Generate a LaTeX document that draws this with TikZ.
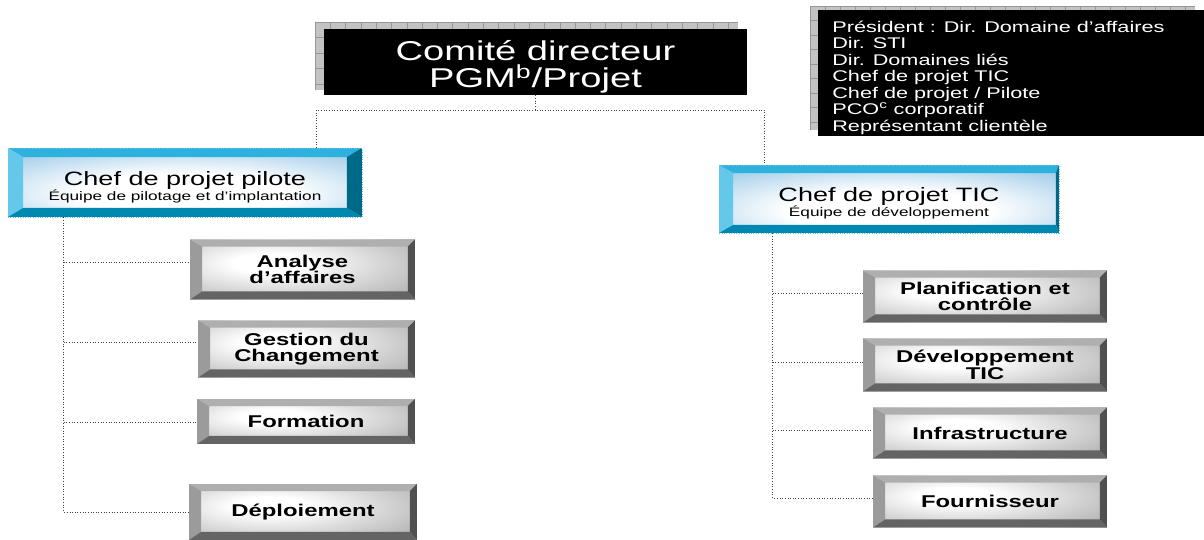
\documentclass[tikz,border=0pt]{standalone}
\usepackage{fontspec}
\setmainfont{Liberation Sans}[FakeStretch=1.4]
\usepackage{tikz}
\usetikzlibrary{calc, positioning}

\definecolor{grishaut}{RGB}{175,175,175}
\definecolor{grisgauche}{RGB}{155,155,155}
\definecolor{grisdroit}{RGB}{80,80,80}
\definecolor{grisbas}{RGB}{100,100,100}
\definecolor{grisfond}{RGB}{145,145,145}
\definecolor{cyanhaut}{RGB}{45,178,222}
\definecolor{cyangauche}{RGB}{100,200,235}
\definecolor{cyandroit}{RGB}{0,105,135}
\definecolor{cyanbas}{RGB}{0,136,176}
\definecolor{cyanfond}{RGB}{60,150,210}
\definecolor{ombre}{RGB}{195,195,195}
\definecolor{ombretrait}{RGB}{150,150,150}

\pgfdeclareradialshading{lueurgris}{\pgfpoint{-8bp}{6bp}}{color(0bp)=(white); color(8bp)=(white);
  color(50bp)=(grisfond); color(100bp)=(grisfond)}
\pgfdeclareradialshading{lueurcyan}{\pgfpoint{0bp}{-10bp}}{color(0bp)=(white); color(15bp)=(white);
  color(58bp)=(cyanfond); color(100bp)=(cyanfond)}

\tikzset{
  bevelsize/.code n args={4}{\def\bvl{#1}\def\bvt{#2}\def\bvr{#3}\def\bvb{#4}},
  bevelcolors/.code n args={4}{\def\bct{#1}\def\bcl{#2}\def\bcr{#3}\def\bcb{#4}},
  bevel/.style={path picture={
    \coordinate (pnw) at (path picture bounding box.north west);
    \coordinate (pne) at (path picture bounding box.north east);
    \coordinate (pse) at (path picture bounding box.south east);
    \coordinate (psw) at (path picture bounding box.south west);
    \coordinate (inw) at ($(pnw)+(\bvl,\bvt)$);
    \coordinate (ine) at ($(pne)+(-\bvr,\bvt)$);
    \coordinate (ise) at ($(pse)+(-\bvr,-\bvb)$);
    \coordinate (isw) at ($(psw)+(\bvl,-\bvb)$);
    \fill[fill=\bct] (pnw) -- (pne) -- (ine) -- (inw) -- cycle;
    \fill[fill=\bcl] (pnw) -- (inw) -- (isw) -- (psw) -- cycle;
    \fill[fill=\bcr] (pne) -- (pse) -- (ise) -- (ine) -- cycle;
    \fill[fill=\bcb] (psw) -- (isw) -- (ise) -- (pse) -- cycle;
  }},
}

\begin{document}
\begin{tikzpicture}[x=0.02cm, y=-0.02cm,
    lien/.style={draw=black!75, densely dotted, line width=0.5pt},
    comitebox/.style={fill=black, text=white, inner sep=0pt, align=center,
      font=\fontsize{15.5}{15.5}\selectfont},
    membres/.style={text=white, inner sep=0pt, align=left,
      font=\fontsize{8.8}{9.4}\selectfont},
    tache/.style={rectangle, inner sep=0pt, align=center, shade, shading=lueurgris,
      font=\fontsize{9.7}{9.5}\selectfont\bfseries,
      bevelsize={12}{7}{7}{8},
      bevelcolors={grishaut}{grisgauche}{grisdroit}{grisbas}, bevel},
    equipe/.style={rectangle, inner sep=0pt, align=center, shade, shading=lueurcyan,
      draw=cyangauche, densely dotted,
      font=\fontsize{11}{8.5}\selectfont,
      bevelsize={15}{9}{15}{9},
      bevelcolors={cyanhaut}{cyangauche}{cyandroit}{cyanbas}, bevel}]
    \useasboundingbox (0,0) rectangle (1204,540);

    % Grid shadow behind the steering committee
    \fill[ombre] (315,22) rectangle (738,90);
    \foreach \gx in {315,330.3,...,738}
        \draw[ombretrait, line width=0.3pt] (\gx,22) -- (\gx,90);
    \foreach \gy in {22,37.5,...,90}
        \draw[ombretrait, line width=0.3pt] (315,\gy) -- (738,\gy);

    % Steering committee
    \node[comitebox, minimum width=8.46cm, minimum height=1.32cm] (comite) at (535.5,62)
        {\rule{0pt}{17pt}Comité directeur\\PGM\textsuperscript{b}/Projet};

    % Committee members (black panel, top right)
    \fill[ombre] (810,6) rectangle (1195,130);
    \foreach \gx in {810,825,...,1195}
        \draw[ombretrait, line width=0.3pt] (\gx,6) -- (\gx,130);
    \foreach \gy in {6,20.5,...,130}
        \draw[ombretrait, line width=0.3pt] (810,\gy) -- (1195,\gy);
    \fill[black] (818,10) rectangle (1204,136);
    \node[membres, anchor=north west] (membres) at (832,20.5)
        {Président : Dir. Domaine d’affaires\\Dir. STI\\Dir. Domaines liés\\
         Chef de projet TIC\\Chef de projet / Pilote\\PCO\textsuperscript{c} corporatif\\
         Représentant clientèle};

    % Teams
    \node[equipe, minimum width=7.08cm, minimum height=1.38cm] (pilote) at (185,182.5)
        {\rule{0pt}{13pt}Chef de projet pilote\\{\fontsize{7}{8.5}\selectfont Équipe de pilotage et d’implantation}};
    \node[equipe, bevelsize={14}{8}{3}{8}, minimum width=6.8cm, minimum height=1.36cm] (tic) at (889,199)
        {\rule{0pt}{12.5pt}Chef de projet TIC\\{\fontsize{7}{8.5}\selectfont Équipe de développement}};

    % Pilot side tasks
    \node[tache, minimum width=4.5cm, minimum height=1.2cm] (analyse) at (302.5,269.5) {Analyse\\d’affaires};
    \node[tache, minimum width=4.34cm, minimum height=1.14cm] (gestion) at (306.5,349) {Gestion du\\Changement};
    \node[tache, minimum width=4.36cm, minimum height=0.9cm] (formation) at (306,421.5) {Formation};
    \node[tache, minimum width=4.56cm, minimum height=1.12cm] (deploi) at (303,512) {Déploiement};

    % TIC side tasks
    \node[tache, minimum width=4.88cm, minimum height=1.04cm] (planif) at (985,296.5) {Planification et\\contrôle};
    \node[tache, minimum width=4.88cm, minimum height=1.06cm] (devtic) at (985,365) {Développement\\TIC};
    \node[tache, minimum width=4.68cm, minimum height=1.02cm] (infra) at (990,433) {Infrastructure};
    \node[tache, minimum width=4.68cm, minimum height=1.04cm] (fourn) at (990,501.5) {Fournisseur};

    % Links from the committee
    \coordinate (bus) at ($(comite.south)+(0,15)$);
    \draw[lien] (comite.south) -- (bus);
    \draw[lien] ($(pilote.north west)!.87!(pilote.north east)$) |- (bus)
        -| ($(tic.north west)!.135!(tic.north east)$);

    % Left trunk
    \coordinate (troncg) at ($(pilote.south west)!.158!(pilote.south east)$);
    \draw[lien] (troncg) |- (deploi.west);
    \foreach \n/\dy in {analyse/-7.5, gestion/-7, formation/0.5}
        \draw[lien] (troncg |- {$(\n.west)+(0,\dy)$}) -- ($(\n.west)+(0,\dy)$);

    % Right trunk
    \coordinate (troncd) at ($(tic.south west)!.159!(tic.south east)$);
    \draw[lien] (troncd) |- ($(fourn.west)+(0,-3.5)$);
    \foreach \n/\dy in {planif/-3.5, devtic/-3, infra/-3}
        \draw[lien] (troncd |- {$(\n.west)+(0,\dy)$}) -- ($(\n.west)+(0,\dy)$);
\end{tikzpicture}
\end{document}
